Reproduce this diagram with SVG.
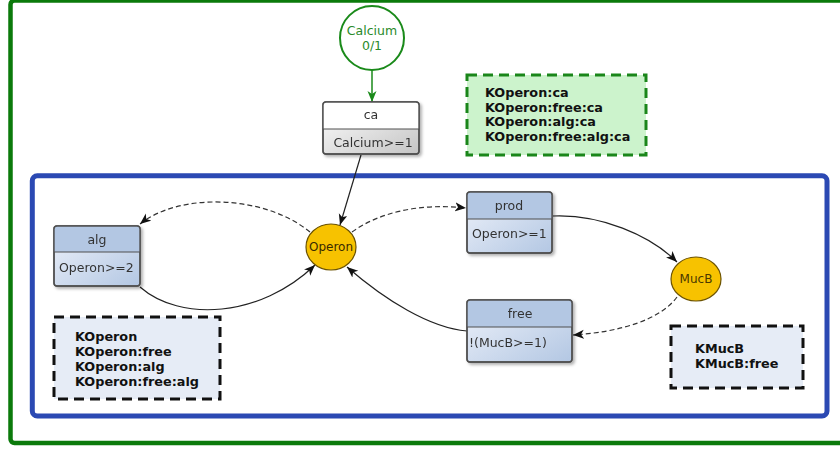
<svg xmlns="http://www.w3.org/2000/svg" width="840" height="451" viewBox="0 0 840 451">
  <style>
    text { font-family: "DejaVu Sans", "Liberation Sans", sans-serif; font-size: 12.5px; fill: #333; }
    .c { text-anchor: middle; }
    .legend { font-weight: bold; fill: #111; font-size: 12.8px; }
    .sp { font-size: 12px; }
    .box { stroke: #505050; stroke-width: 1.4; }
    .div { stroke: #505050; stroke-width: 1.2; }
    .edge { fill: none; stroke: #222; stroke-width: 1.2; marker-end: url(#arrow); }
    .dash { stroke-dasharray: 5 3; stroke: #333; }
    .species { fill: #f7c200; stroke: #6b5200; stroke-width: 1.2; }
  </style>
  <defs>
    <marker id="arrow" markerUnits="userSpaceOnUse" markerWidth="12" markerHeight="10" refX="11" refY="4.5" orient="auto">
      <path d="M0,0 L11,4.5 L0,9 L3,4.5 z" fill="#111"/>
    </marker>
    <marker id="arrowGreen" markerUnits="userSpaceOnUse" markerWidth="12" markerHeight="10" refX="11" refY="4.5" orient="auto">
      <path d="M0,0 L11,4.5 L0,9 L3,4.5 z" fill="#1a8a1a"/>
    </marker>
    <linearGradient id="blueLow" x1="0" y1="0" x2="1" y2="1">
      <stop offset="0" stop-color="#eef2fa"/>
      <stop offset="1" stop-color="#b3c7e3"/>
    </linearGradient>
    <linearGradient id="greyLow" x1="0" y1="0" x2="1" y2="1">
      <stop offset="0" stop-color="#ffffff"/>
      <stop offset="1" stop-color="#c4c4c4"/>
    </linearGradient>
    <filter id="shadow" x="-10%" y="-10%" width="130%" height="140%">
      <feDropShadow dx="2" dy="2" stdDeviation="1.5" flood-color="#000" flood-opacity="0.3"/>
    </filter>
  </defs>

  <rect width="840" height="451" fill="#ffffff"/>

  <!-- compartments -->
  <rect id="outer" x="10.5" y="0.5" width="840" height="442.5" rx="4" fill="none" stroke="#0b7a0b" stroke-width="4.5"/>
  <rect id="cell" x="32.3" y="175.7" width="794.7" height="240.3" rx="5" fill="none" stroke="#2b49b3" stroke-width="5"/>

  <!-- connectors -->
  <g id="connectors">
    <path d="M372,70 L372,102" fill="none" stroke="#1a8a1a" stroke-width="1.5" marker-end="url(#arrowGreen)"/>
    <path class="edge" d="M361,155 L340,225"/>
    <path class="edge dash" d="M310,232 C265,195 180,192 140,224"/>
    <path class="edge" d="M140,287 C180,322 260,318 315,265"/>
    <path class="edge dash" d="M352,232 C380,212 420,203 466,208"/>
    <path class="edge" d="M553,216 C600,214 650,235 677,262"/>
    <path class="edge dash" d="M677,297 C660,320 620,332 573,335"/>
    <path class="edge" d="M467,331 C430,328 385,300 347,267"/>
  </g>

  <!-- Calcium input -->
  <g id="Calcium">
    <circle cx="372" cy="38" r="32" fill="#ffffff" stroke="#1a8a1a" stroke-width="2"/>
    <text class="c" x="372" y="35" style="fill:#2a8a2a">Calcium</text>
    <text class="c" x="372" y="50" style="fill:#2a8a2a">0/1</text>
  </g>

  <!-- reaction ca -->
  <g id="ca" filter="url(#shadow)">
    <rect class="box" x="323" y="102" width="96" height="52" rx="3" fill="url(#greyLow)"/>
    <path d="M323,129 V105 Q323,102 326,102 H416 Q419,102 419,105 V129 Z" fill="#ffffff"/>
    <rect x="323" y="102" width="96" height="52" rx="3" fill="none" class="box"/>
    <line class="div" x1="323" y1="129" x2="419" y2="129"/>
    <text class="c" x="371" y="119">ca</text>
    <text class="c" x="373" y="147">Calcium&gt;=1</text>
  </g>

  <!-- legend for the ca keys -->
  <g id="legendCa">
    <rect x="467" y="75" width="179" height="80" fill="#ccf3cc" stroke="#1a861a" stroke-width="3" stroke-dasharray="10 6"/>
    <text class="legend" x="485" y="97">KOperon:ca</text>
    <text class="legend" x="485" y="111.5">KOperon:free:ca</text>
    <text class="legend" x="485" y="126">KOperon:alg:ca</text>
    <text class="legend" x="485" y="140.5">KOperon:free:alg:ca</text>
  </g>

  <!-- reaction alg -->
  <g id="alg" filter="url(#shadow)">
    <rect class="box" x="54" y="226" width="86" height="60" rx="3" fill="url(#blueLow)"/>
    <path d="M54,252 V229 Q54,226 57,226 H137 Q140,226 140,229 V252 Z" fill="#b3c7e3"/>
    <rect x="54" y="226" width="86" height="60" rx="3" fill="none" class="box"/>
    <line class="div" x1="54" y1="252" x2="140" y2="252"/>
    <text class="c" x="97" y="244">alg</text>
    <text x="59" y="272">Operon&gt;=2</text>
  </g>

  <!-- species Operon -->
  <g id="Operon">
    <ellipse class="species" cx="331" cy="247" rx="25" ry="23"/>
    <text class="c sp" x="331" y="251" style="fill:#3a2a00">Operon</text>
  </g>

  <!-- reaction prod -->
  <g id="prod" filter="url(#shadow)">
    <rect class="box" x="467" y="192" width="85" height="61" rx="3" fill="url(#blueLow)"/>
    <path d="M467,219 V195 Q467,192 470,192 H549 Q552,192 552,195 V219 Z" fill="#b3c7e3"/>
    <rect x="467" y="192" width="85" height="61" rx="3" fill="none" class="box"/>
    <line class="div" x1="467" y1="219" x2="552" y2="219"/>
    <text class="c" x="509" y="210">prod</text>
    <text x="472" y="238">Operon&gt;=1</text>
  </g>

  <!-- species MucB -->
  <g id="MucB">
    <ellipse class="species" cx="696" cy="279" rx="25" ry="22"/>
    <text class="c sp" x="696" y="283" style="fill:#4a3800">MucB</text>
  </g>

  <!-- reaction free -->
  <g id="free" filter="url(#shadow)">
    <rect class="box" x="467" y="300" width="105" height="62" rx="3" fill="url(#blueLow)"/>
    <path d="M467,327 V303 Q467,300 470,300 H569 Q572,300 572,303 V327 Z" fill="#b3c7e3"/>
    <rect x="467" y="300" width="105" height="62" rx="3" fill="none" class="box"/>
    <line class="div" x1="467" y1="327" x2="572" y2="327"/>
    <text class="c" x="520" y="318">free</text>
    <text x="469" y="347">!(MucB&gt;=1)</text>
  </g>

  <!-- legend for the Operon keys -->
  <g id="legendOperon">
    <rect x="54" y="317" width="166" height="82" fill="#e6ecf6" stroke="#111" stroke-width="3" stroke-dasharray="10 6"/>
    <text class="legend" x="75" y="341">KOperon</text>
    <text class="legend" x="75" y="356">KOperon:free</text>
    <text class="legend" x="75" y="371">KOperon:alg</text>
    <text class="legend" x="75" y="386">KOperon:free:alg</text>
  </g>

  <!-- legend for the MucB keys -->
  <g id="legendMucB">
    <rect x="671" y="326" width="132" height="62" fill="#e6ecf6" stroke="#111" stroke-width="3" stroke-dasharray="10 6"/>
    <text class="legend" x="695" y="353">KMucB</text>
    <text class="legend" x="695" y="368">KMucB:free</text>
  </g>
</svg>
